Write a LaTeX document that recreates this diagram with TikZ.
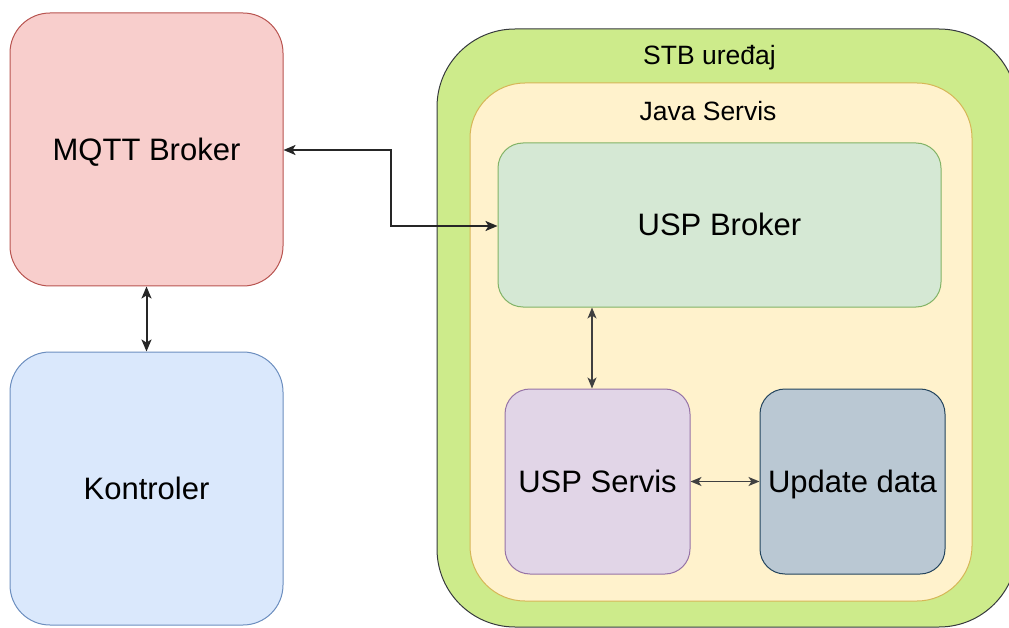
\documentclass[tikz,border=0pt]{standalone}
\usepackage{fontspec}
\setmainfont{Liberation Sans}
\usetikzlibrary{arrows.meta}
\definecolor{redfill}{HTML}{F8CECC}\definecolor{redline}{HTML}{B85450}
\definecolor{bluefill}{HTML}{DAE8FC}\definecolor{blueline}{HTML}{6C8EBF}
\definecolor{limefill}{HTML}{CDEB8B}\definecolor{limeline}{HTML}{36393D}
\definecolor{cremefill}{HTML}{FFF2CC}\definecolor{cremeline}{HTML}{D6B656}
\definecolor{mintfill}{HTML}{D5E8D4}\definecolor{mintline}{HTML}{82B366}
\definecolor{lilacfill}{HTML}{E1D5E7}\definecolor{lilacline}{HTML}{9673A6}
\definecolor{slatefill}{HTML}{BAC8D3}\definecolor{slateline}{HTML}{23445D}
\tikzset{
  box/.style={draw, rounded corners=#1, inner sep=0pt, line width=1pt},
  bigtext/.style={font=\fontsize{31}{35}\selectfont, text height=22pt, text depth=0pt},
  smalltext/.style={font=\fontsize{26.5}{30}\selectfont},
  link/.style={line width=2pt, draw=black!85, {Stealth[length=12pt,width=10pt,inset=3pt]}-{Stealth[length=12pt,width=10pt,inset=3pt]}},
  thinlink/.style={line width=1.3pt, draw=black!75, {Stealth[length=11pt,width=9pt,inset=3pt]}-{Stealth[length=11pt,width=9pt,inset=3pt]}},
}
\begin{document}
\begin{tikzpicture}[x=1pt,y=-1pt]
\useasboundingbox (0,0) rectangle (1009,628);
% left column
\node[box=40, fill=redfill, draw=redline, minimum width=273pt, minimum height=273pt, bigtext] (mqtt) at (146.5,149.5) {MQTT Broker};
\node[box=40, fill=bluefill, draw=blueline, minimum width=273pt, minimum height=273pt, bigtext] (ctrl) at (146.5,488.5) {Kontroler};
% device container
\begin{scope}
\clip (0,0) rectangle (1009,628);
\node[box=78, fill=limefill, draw=limeline, minimum width=580pt, minimum height=598pt] (stb) at (727,328) {};
\end{scope}
\node[smalltext] (stblabel) at (709.5,58) {STB uređaj};
\node[box=55, fill=cremefill, draw=cremeline, minimum width=502pt, minimum height=518pt] (java) at (721,342) {};
\node[smalltext] (javalabel) at (708,111) {Java Servis};
% inner services
\node[box=25, fill=mintfill, draw=mintline, minimum width=443pt, minimum height=164pt, bigtext] (uspb) at (719.5,225) {USP Broker};
\node[box=25, fill=lilacfill, draw=lilacline, minimum width=185pt, minimum height=185pt, bigtext] (usps) at (597.5,481.5) {USP Servis};
\node[box=25, fill=slatefill, draw=slateline, minimum width=185pt, minimum height=185pt, bigtext] (upd) at (852.5,481.5) {Update data};
% connectors
\draw[link] (mqtt.east |- 0,150) -- (391,150) |- (uspb.west |- 0,226);
\draw[link] (mqtt.south) -- (ctrl.north);
\draw[thinlink] (uspb.south -| 592,0) -- (usps.north -| 592,0);
\draw[thinlink] (usps.east) -- (upd.west);
\end{tikzpicture}
\end{document}
